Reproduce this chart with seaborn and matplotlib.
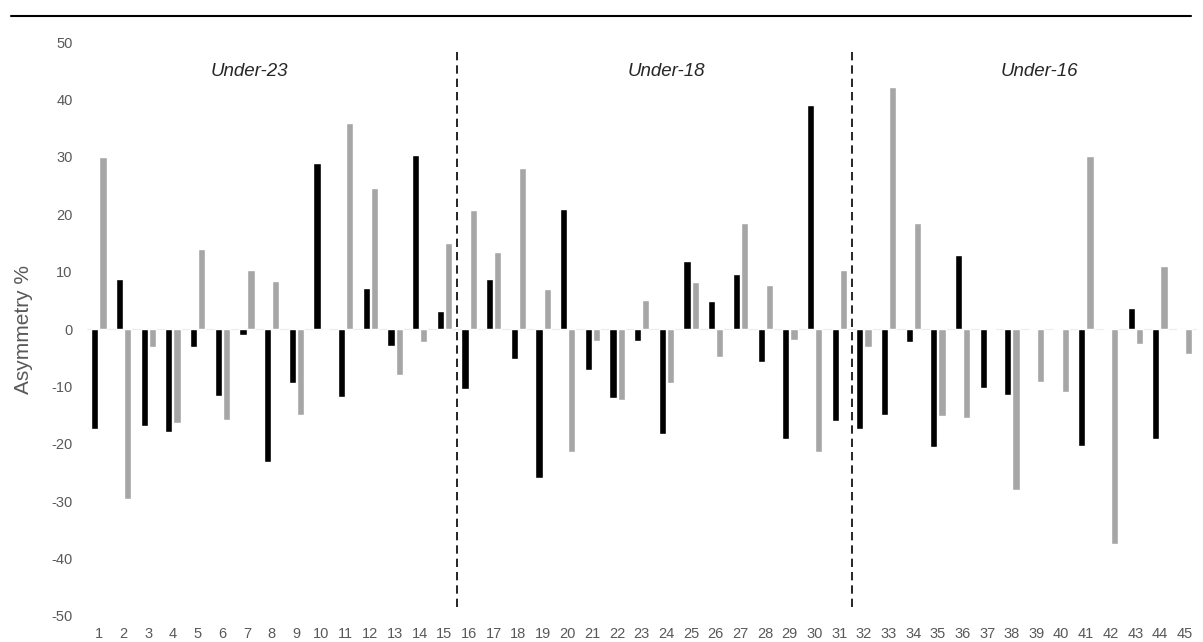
import numpy as np
import pandas as pd
import matplotlib.pyplot as plt
import seaborn as sns
from matplotlib.lines import Line2D

# values (asymmetry %, two series per player)
players = list(range(1, 46))
black_vals = [-17.5, 8.8, -16.9, -18.0, -3.2, -11.6, -1.1, -23.2, -9.4, 28.9,
              -11.8, 7.2, -2.9, 30.3, 3.1,
              -10.5, 8.8, -5.3, -25.9, 20.9, -7.1, -12.0, -2.1, -18.3, 11.9,
              4.8, 9.5, -5.7, -19.2, 39.0, -16.0,
              -17.5, -15.0, -2.3, -20.5, 12.9, -10.3, -11.5, 0.1, 0.1,
              -20.3, 0.0, 3.7, -19.2, -0.2]
grey_vals = [30.0, -29.7, -3.1, -16.3, 13.9, -15.8, 10.3, 8.3, -14.9, 0.0,
             35.9, 24.6, -8.0, -2.3, 15.0,
             20.8, 13.5, 28.1, 6.9, -21.5, -2.1, -12.3, 5.1, -9.4, 8.2,
             -4.8, 18.4, 7.7, -1.9, -21.5, 10.3,
             -3.2, 42.1, 18.5, -15.2, -15.5, -0.2, -28.1, -9.3, -11.0,
             30.2, -37.4, -2.6, 11.0, -4.3]
groups = ["Under-23", "Under-18", "Under-16"]
group_label_x = [6.1, 23.0, 38.1]
group_breaks = [14.5, 30.5]
y_ticks = list(range(-50, 51, 10))

df = pd.DataFrame({
    "player": players * 2,
    "asym": black_vals + grey_vals,
    "series": ["a"] * 45 + ["b"] * 45,
})

sns.set_style("white")
plt.rcParams['font.family'] = ['Liberation Sans', 'DejaVu Sans']

fig = plt.figure(figsize=(12.03, 6.42), dpi=100)
ax = fig.add_axes([0.072, 0.0405, 0.923, 0.894])

sns.barplot(data=df, x="player", y="asym", hue="series", order=players,
            palette=["#000000", "#a6a6a6"], width=0.66, gap=0.12,
            legend=False, ax=ax, saturation=1)

ax.axhline(0, color="#ececec", lw=0.8, zorder=0)
for xb in group_breaks:
    ax.plot([xb, xb], [-48.5, 48.5], color="black", lw=1.2, ls=(0, (5, 3)))
for name, gx in zip(groups, group_label_x):
    ax.text(gx, 44.8, name, ha="center", va="center", fontsize=13.5,
            style="italic", color="#262626")

ax.set_ylim(-50, 50)
ax.set_xlim(-0.5, 44.5)
ax.set_yticks(y_ticks)
ax.set_yticklabels([str(t) for t in y_ticks])
ax.tick_params(axis="both", length=0, colors="#595959", labelsize=10.5)
ax.tick_params(axis="y", pad=10)
ax.tick_params(axis="x", pad=8)
ax.set_xlabel("")
ax.set_ylabel("Asymmetry %", fontsize=15, color="#595959")
ax.yaxis.set_label_coords(-0.048, 0.5)
sns.despine(ax=ax, left=True, bottom=True)

fig.add_artist(Line2D([11 / 1203, 1191 / 1203], [0.975, 0.975],
                      color="black", lw=1.5))

plt.savefig("out.png", dpi=100)
plt.close()
